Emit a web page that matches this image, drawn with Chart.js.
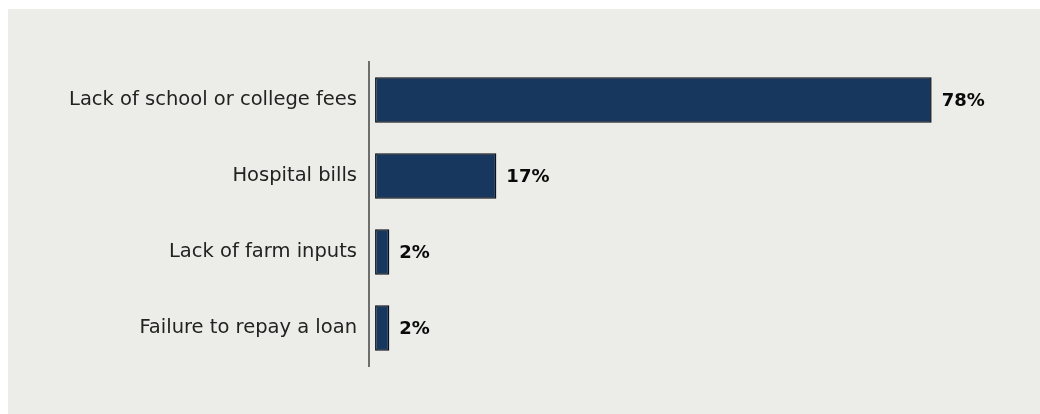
<!DOCTYPE html>
<html>
<head>
<meta charset="utf-8">
<script src="https://cdn.jsdelivr.net/npm/chart.js@4/dist/chart.umd.min.js"></script>
<style>
  body { margin: 0; background: #ffffff; }
  #panel { position: absolute; left: 8px; top: 9px; width: 1032px; height: 405px; background: #ecede8; }
  canvas { display: block; }
</style>
</head>
<body>
<div id="panel"><canvas id="chart" width="1032" height="405"></canvas></div>
<script>
// 데이터
const categories = ['Lack of school or college fees', 'Hospital bills', 'Lack of farm inputs', 'Failure to repay a loan'];
const shares = [78, 17, 2, 2];

// 막대 끝 값 라벨
const valueLabels = {
    id: 'valueLabels',
    afterDatasetsDraw(chart) {
        const ctx = chart.ctx;
        const meta = chart.getDatasetMeta(0);
        ctx.save();
        ctx.font = 'bold 18px "DejaVu Sans", sans-serif';
        ctx.fillStyle = '#0a0a0a';
        ctx.textAlign = 'left';
        ctx.textBaseline = 'middle';
        meta.data.forEach((bar, i) => {
            ctx.fillText(shares[i] + '%', bar.x + 10, bar.y + 1);
        });
        ctx.restore();
    }
};

new Chart(document.getElementById('chart'), {
    type: 'bar',
    data: {
        labels: categories,
        datasets: [{
            data: shares,
            backgroundColor: '#18375f',
            borderColor: '#0a0f18',
            borderWidth: 1.5,
            borderSkipped: false,
            barPercentage: 0.6,
            categoryPercentage: 1.0
        }]
    },
    options: {
        indexAxis: 'y',
        responsive: false,
        animation: false,
        layout: { padding: { top: 53, bottom: 48, left: 0, right: 37 } },
        plugins: {
            legend: { display: false },
            tooltip: { enabled: false }
        },
        scales: {
            x: {
                display: false,
                min: -0.85,
                max: 88
            },
            y: {
                afterFit(scale) { scale.width = 361; },
                grid: { display: false, drawTicks: false },
                border: { display: true, color: '#6e6e6e', width: 2 },
                ticks: {
                    padding: 12,
                    color: '#222222',
                    font: { family: '"DejaVu Sans", sans-serif', size: 19.5 }
                }
            }
        }
    },
    plugins: [valueLabels]
});
</script>
</body>
</html>
